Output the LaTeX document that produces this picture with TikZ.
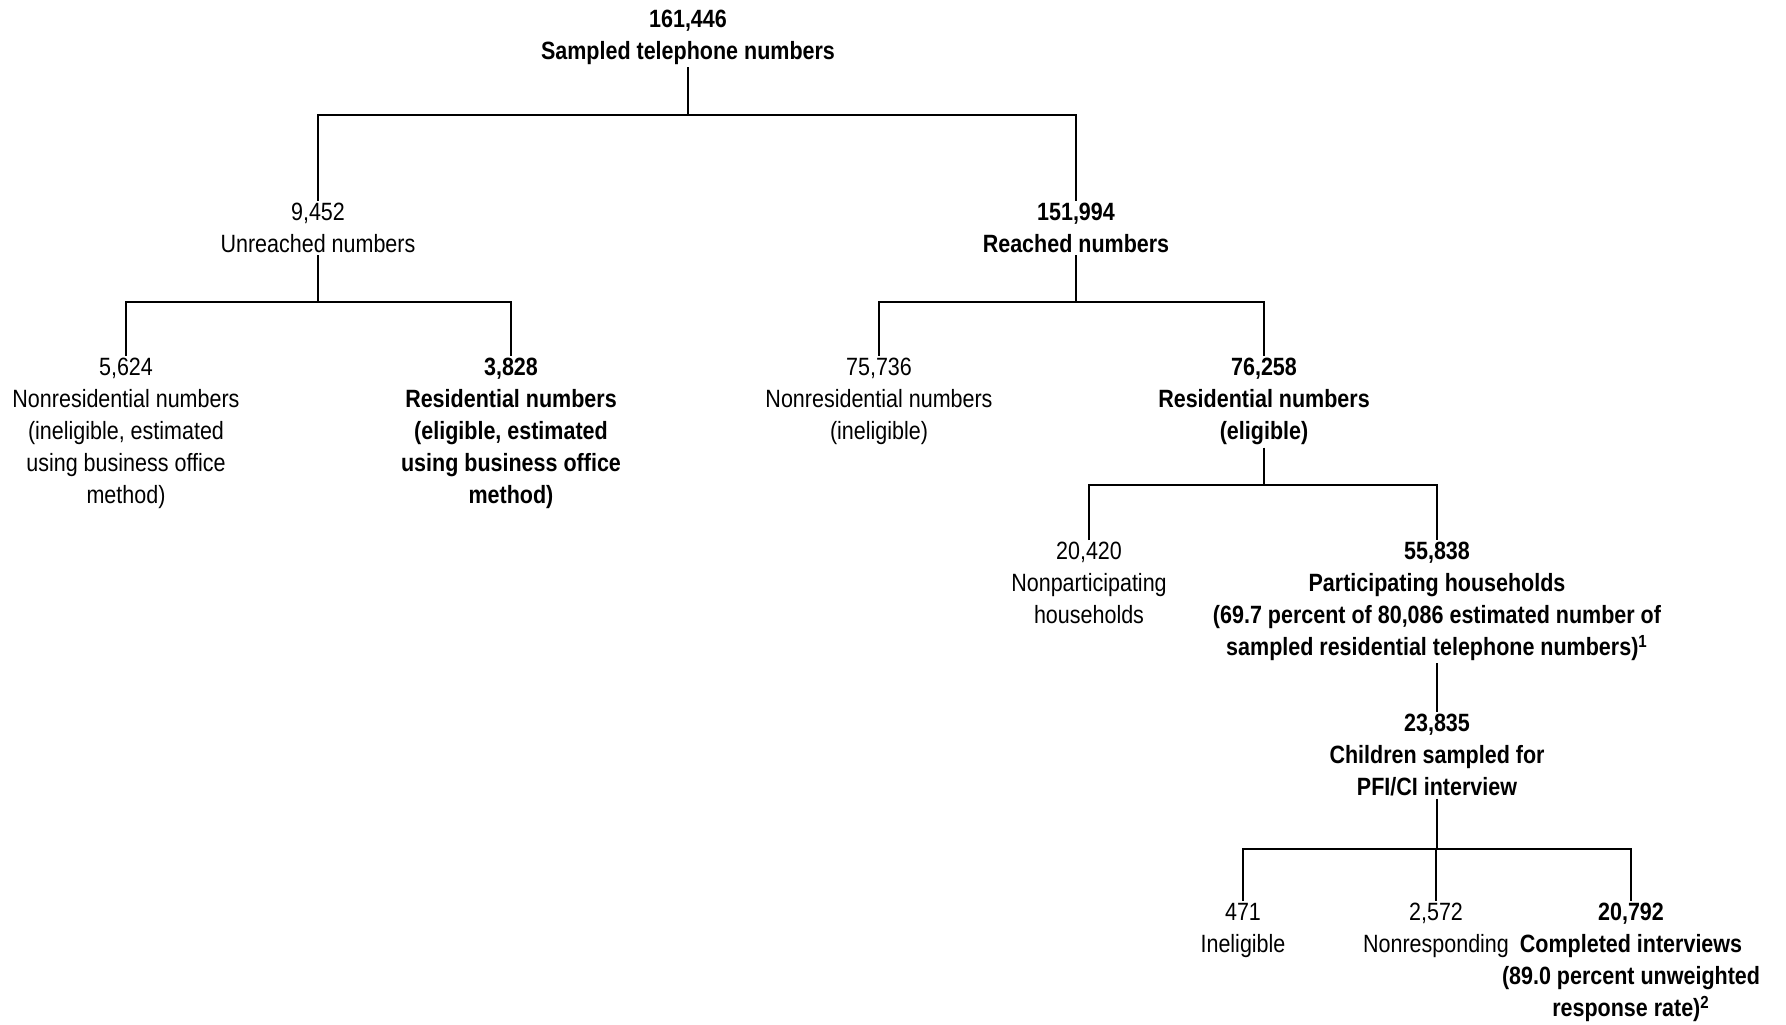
\documentclass[tikz,border=0pt]{standalone}
\usepackage{fontspec}
\setmainfont{Liberation Sans}[FakeStretch=0.86]
\usepackage{tikz}
\usetikzlibrary{calc}

\tikzset{
  cnt/.style={align=center,inner sep=1pt,anchor=north,font=\fontsize{12.5}{16}\selectfont},
  cntb/.style={cnt,font=\fontsize{12.5}{16}\selectfont\bfseries},
  link/.style={black,line width=0.9pt}
}

\begin{document}
\begin{tikzpicture}[x=0.5pt,y=0.5pt,line join=miter]
    \useasboundingbox (0,0) rectangle (1786,1024);
    % ============ Top: sampled numbers ============
    \node[cntb] (sampled) at (688,1016) {161,446\\Sampled telephone numbers};
    % ============ Unreached / reached ============
    \node[cnt]  (unreach) at (318,823)  {9,452\\Unreached numbers};
    \node[cntb] (reach)   at (1076,823) {151,994\\Reached numbers};
    % ============ Under unreached ============
    \node[cnt]  (nonresU) at (126,668) {5,624\\Nonresidential numbers\\(ineligible, estimated\\using business office\\method)};
    \node[cntb] (resU)    at (511,668) {3,828\\Residential numbers\\(eligible, estimated\\using business office\\method)};
    % ============ Under reached ============
    \node[cnt]  (nonresR) at (879,668)  {75,736\\Nonresidential numbers\\(ineligible)};
    \node[cntb] (resR)    at (1264,668) {76,258\\Residential numbers\\(eligible)};
    % ============ Households ============
    \node[cnt]  (nonpart) at (1089,484) {20,420\\Nonparticipating\\households};
    \node[cntb] (part)    at (1437,484) {55,838\\Participating households\\(69.7 percent of 80,086 estimated number of\\sampled residential telephone numbers)\textsuperscript{1}};
    % ============ Children ============
    \node[cntb] (child)   at (1437,312) {23,835\\Children sampled for\\PFI/CI interview};
    \node[cnt]  (inelig)  at (1243,123) {471\\Ineligible};
    \node[cnt]  (nonresp) at (1436,123) {2,572\\Nonresponding};
    \node[cntb] (done)    at (1631,123) {20,792\\Completed interviews\\(89.0 percent unweighted\\response rate)\textsuperscript{2}};
    % ============ Bars ============
    \coordinate (barA) at (688,909);
    \coordinate (barB) at (318,722);
    \coordinate (barC) at (1071,722);
    \coordinate (barD) at (1262,539);
    \coordinate (barE) at (1436,175);
    % ============ Connectors ============
    \draw[link] (sampled.south) -- (sampled.south |- barA);
    \draw[link] (unreach.north) |- (barA) -| (reach.north);
    \draw[link] (unreach.south) -- (unreach.south |- barB);
    \draw[link] (nonresU.north) |- (barB) -| (resU.north);
    \draw[link] (reach.south) -- (reach.south |- barC);
    \draw[link] (nonresR.north) |- (barC) -| (resR.north);
    \draw[link] (resR.south) -- (resR.south |- barD);
    \draw[link] (nonpart.north) |- (barD) -| (part.north);
    \draw[link] (part.south) -- (child.north);
    \draw[link] (child.south) -- (child.south |- barE);
    \draw[link] (inelig.north) |- (barE) -| (done.north);
    \draw[link] (barE) -- (nonresp.north);
\end{tikzpicture}
\end{document}
